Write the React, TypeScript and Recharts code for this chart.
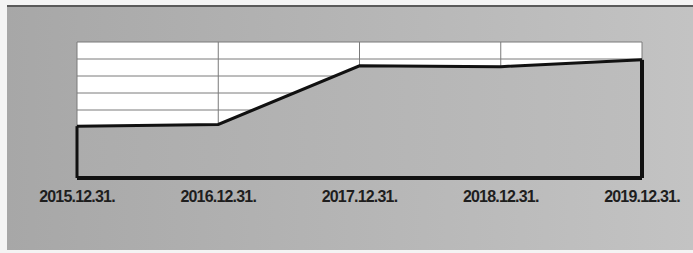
import { Area, AreaChart, CartesianGrid, ReferenceLine, XAxis, YAxis } from "recharts";

const dates = ["2015.12.31.", "2016.12.31.", "2017.12.31.", "2018.12.31.", "2019.12.31."];
const values = [3.05, 3.15, 6.6, 6.55, 6.95];
const yTicks = [0, 1, 2, 3, 4, 5, 6, 7, 8];

const data = dates.map((date, i) => ({ date, value: values[i] }));

export default function App() {
  const first = dates[0];
  const last = dates[dates.length - 1];
  return (
    <div style={{ position: "absolute", left: 0, top: 0, width: 693, height: 253, background: "#f4f4f4" }}>
      <div
        style={{
          position: "absolute",
          left: 7,
          top: 5,
          width: 686,
          height: 245,
          background: "linear-gradient(to right, #a7a7a7, #c3c3c3)",
          borderTop: "2px solid #5a5a5a",
          boxSizing: "border-box",
        }}
      />
      <div style={{ position: "absolute", left: 0, top: 0 }}>
        <AreaChart width={693} height={253} data={data} margin={{ top: 42, right: 51, bottom: 45, left: 77 }}>
          <defs>
            <linearGradient id="areaFill" x1="0" y1="0" x2="1" y2="0">
              <stop offset="0%" stopColor="#acacac" />
              <stop offset="100%" stopColor="#bdbdbd" />
            </linearGradient>
          </defs>
          <CartesianGrid stroke="#7a7a7a" fill="#ffffff" fillOpacity={1} />
          <XAxis
            dataKey="date"
            height={30}
            tickLine={false}
            tickMargin={7}
            axisLine={{ stroke: "#111", strokeWidth: 4 }}
            tick={{ fontSize: 16, fontWeight: "bold", fill: "#1e1e1e", fontFamily: "Liberation Sans, Arial, sans-serif", letterSpacing: -0.8 }}
            interval={0}
          />
          <YAxis hide domain={[0, 8]} ticks={yTicks} interval={0} />
          <Area
            type="linear"
            dataKey="value"
            stroke="#111"
            strokeWidth={3}
            fill="url(#areaFill)"
            fillOpacity={1}
            dot={false}
            activeDot={false}
            isAnimationActive={false}
          />
          <ReferenceLine segment={[{ x: first, y: 0 }, { x: first, y: values[0] }]} stroke="#111" strokeWidth={3} />
          <ReferenceLine segment={[{ x: last, y: 0 }, { x: last, y: values[values.length - 1] }]} stroke="#111" strokeWidth={4} />
        </AreaChart>
      </div>
    </div>
  );
}
